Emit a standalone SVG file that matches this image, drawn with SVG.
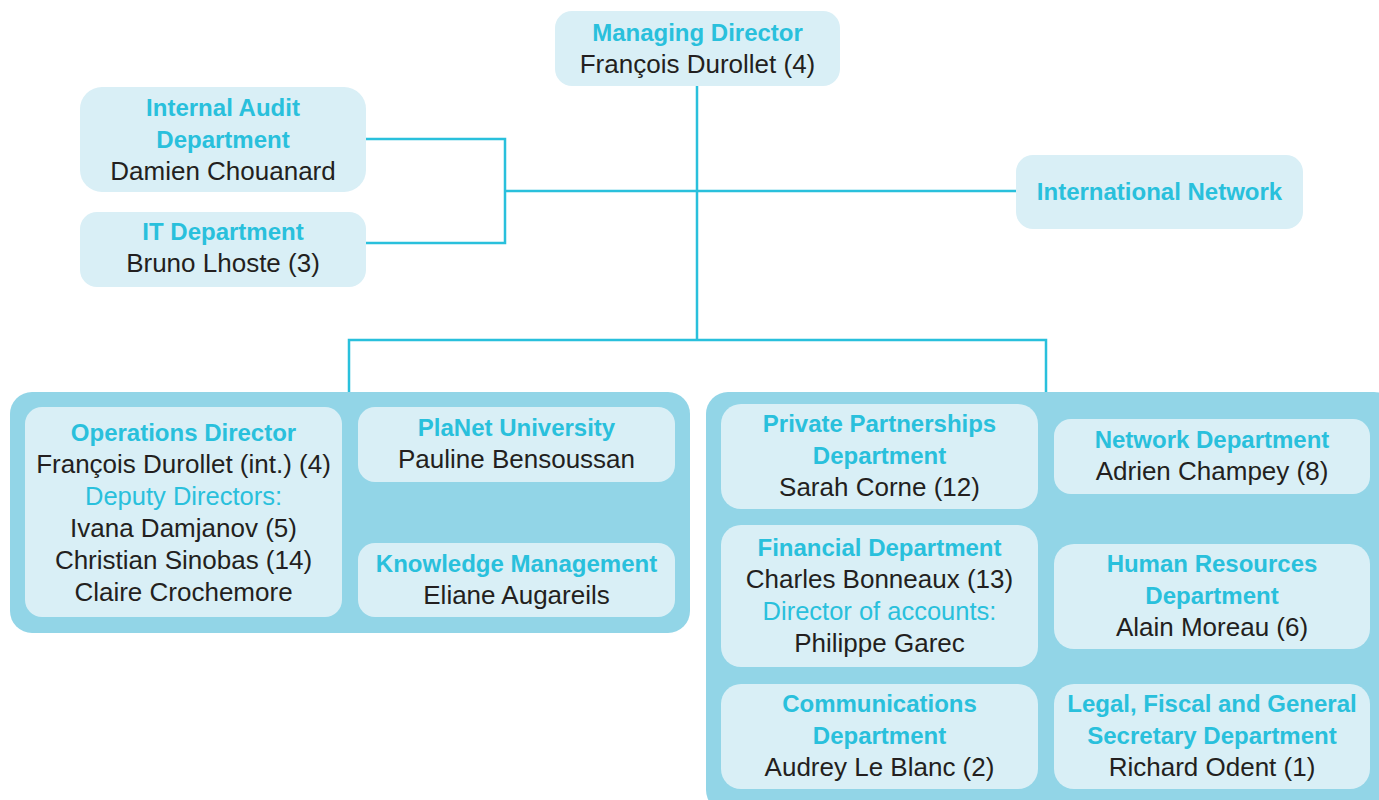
<svg xmlns="http://www.w3.org/2000/svg" width="1379" height="800" viewBox="0 0 1379 800">
<style>
.node{fill:#d9eff6}
.cont{fill:#92d5e7}
.t{font-family:"Liberation Sans",Arial,sans-serif;font-size:24px;font-weight:bold;fill:#29c0dc;text-anchor:middle}
.s{font-family:"Liberation Sans",Arial,sans-serif;font-size:25.5px;fill:#29c0dc;text-anchor:middle}
.n{font-family:"Liberation Sans",Arial,sans-serif;font-size:26px;fill:#231f20;text-anchor:middle}
.c{fill:none;stroke:#29c0dc;stroke-width:2.5}
</style>
<rect width="1379" height="800" fill="#ffffff"/>
<g id="connectors">
<path class="c" d="M697 86 V340 M349 392 V340 H1046 V392"/>
<path class="c" d="M366 139 H505 V243 H366 M505 191 H1017"/>
</g>
<g id="container-left"><rect class="cont" x="10" y="392" width="680" height="241" rx="22"/></g>
<g id="container-right"><rect class="cont" x="706" y="392" width="690" height="420" rx="22"/></g>
<g id="managing-director">
<rect class="node" x="555" y="11" width="285" height="75" rx="17"/>
<text class="t" x="697.5" y="41">Managing Director</text>
<text class="n" x="697.5" y="73">François Durollet (4)</text>
</g>
<g id="internal-audit">
<rect class="node" x="80" y="87" width="286" height="105" rx="22"/>
<text class="t" x="223" y="116">Internal Audit</text>
<text class="t" x="223" y="148">Department</text>
<text class="n" x="223" y="180">Damien Chouanard</text>
</g>
<g id="it-department">
<rect class="node" x="80" y="212" width="286" height="75" rx="17"/>
<text class="t" x="223" y="240">IT Department</text>
<text class="n" x="223" y="272">Bruno Lhoste (3)</text>
</g>
<g id="international-network">
<rect class="node" x="1016" y="155" width="287" height="74" rx="17"/>
<text class="t" x="1159.5" y="200">International Network</text>
</g>
<g id="operations-director">
<rect class="node" x="25" y="407" width="317" height="210" rx="17"/>
<text class="t" x="183.5" y="441">Operations Director</text>
<text class="n" x="183.5" y="473">François Durollet (int.) (4)</text>
<text class="s" x="183.5" y="505">Deputy Directors:</text>
<text class="n" x="183.5" y="537">Ivana Damjanov (5)</text>
<text class="n" x="183.5" y="569">Christian Sinobas (14)</text>
<text class="n" x="183.5" y="601">Claire Crochemore</text>
</g>
<g id="planet-university">
<rect class="node" x="358" y="407" width="317" height="75" rx="17"/>
<text class="t" x="516.5" y="436">PlaNet University</text>
<text class="n" x="516.5" y="468">Pauline Bensoussan</text>
</g>
<g id="knowledge-management">
<rect class="node" x="358" y="543" width="317" height="74" rx="17"/>
<text class="t" x="516.5" y="572">Knowledge Management</text>
<text class="n" x="516.5" y="604">Eliane Augareils</text>
</g>
<g id="private-partnerships">
<rect class="node" x="721" y="404" width="317" height="105" rx="20"/>
<text class="t" x="879.5" y="432">Private Partnerships</text>
<text class="t" x="879.5" y="464">Department</text>
<text class="n" x="879.5" y="496">Sarah Corne (12)</text>
</g>
<g id="network-department">
<rect class="node" x="1054" y="419" width="316" height="75" rx="17"/>
<text class="t" x="1212" y="448">Network Department</text>
<text class="n" x="1212" y="480">Adrien Champey (8)</text>
</g>
<g id="financial-department">
<rect class="node" x="721" y="525" width="317" height="142" rx="20"/>
<text class="t" x="879.5" y="556">Financial Department</text>
<text class="n" x="879.5" y="588">Charles Bonneaux (13)</text>
<text class="s" x="879.5" y="620">Director of accounts:</text>
<text class="n" x="879.5" y="652">Philippe Garec</text>
</g>
<g id="human-resources">
<rect class="node" x="1054" y="544" width="316" height="105" rx="20"/>
<text class="t" x="1212" y="572">Human Resources</text>
<text class="t" x="1212" y="604">Department</text>
<text class="n" x="1212" y="636">Alain Moreau (6)</text>
</g>
<g id="communications">
<rect class="node" x="721" y="684" width="317" height="105" rx="20"/>
<text class="t" x="879.5" y="712">Communications</text>
<text class="t" x="879.5" y="744">Department</text>
<text class="n" x="879.5" y="776">Audrey Le Blanc (2)</text>
</g>
<g id="legal-fiscal">
<rect class="node" x="1054" y="684" width="316" height="105" rx="20"/>
<text class="t" x="1212" y="712">Legal, Fiscal and General</text>
<text class="t" x="1212" y="744">Secretary Department</text>
<text class="n" x="1212" y="776">Richard Odent (1)</text>
</g>
</svg>
